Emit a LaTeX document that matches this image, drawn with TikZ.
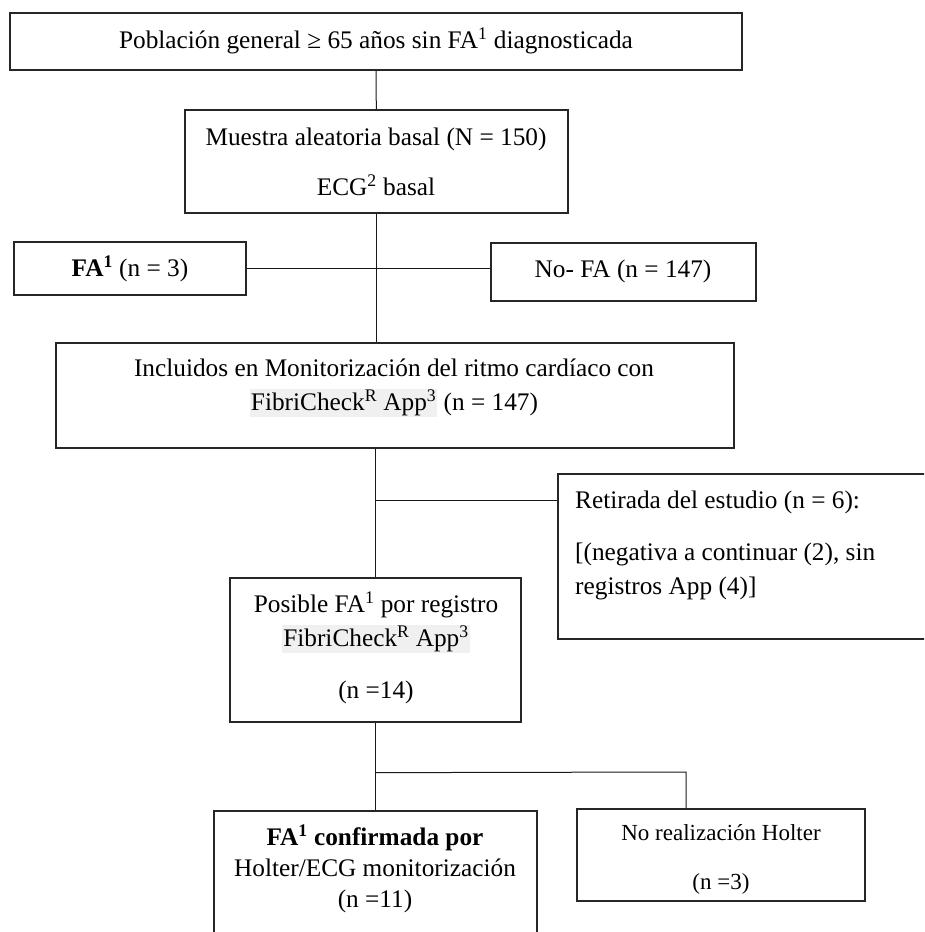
\documentclass[tikz,border=0pt]{standalone}
\usepackage{fontspec}
\setmainfont{Liberation Serif}
\usetikzlibrary{calc}

\definecolor{hlgray}{HTML}{F0F0F0}
\newcommand*{\AppHl}[1]{{\setlength{\fboxsep}{1pt}\colorbox{hlgray}{#1}}}
\newcommand*{\FibriApp}{\AppHl{FibriCheck\textsuperscript{R} App\textsuperscript{3}}}

\tikzset{
  box/.style={draw=black!85, line width=1.3pt, inner sep=0pt},
  conn/.style={draw=black!90, line width=1pt},
  txt/.style={inner sep=0pt, align=center, font=\fontsize{25.3}{34}\selectfont},
  smalltxt/.style={txt, font=\fontsize{23}{25}\selectfont},
}

\begin{document}
\begin{tikzpicture}[x=1pt,y=-1pt]
    \clip (0,0) rectangle (924,932);
    \fill[white] (0,0) rectangle (924,932);

    % boxes: name/left/top/right/bottom
    \foreach \name/\xl/\yt/\xr/\yb in {
        title/10/13/742/70,
        muestra/185/110/568/213,
        fa/14/242/246/295,
        nofa/491/243/756/301,
        incl/56/343/734/448,
        retir/558/474/940/639,
        posible/230/578/521/722,
        conf/214/811/537/950,
        nohol/577/809/865/901%
    }{
        \node[box, minimum width={\xr-\xl}, minimum height={\yb-\yt}]
            (\name) at ({(\xl+\xr)/2},{(\yt+\yb)/2}) {};
    }

    % texts
    \node[txt] (title-t) at (376,41) {Población general ≥ 65 años sin FA\textsuperscript{1} diagnosticada};
    \node[txt] (muestra-t) at (376,162) {Muestra aleatoria basal (N = 150)\\[16pt]ECG\textsuperscript{2} basal};
    \node[txt] (fa-t) at (130,269) {\textbf{FA\textsuperscript{1}} (n = 3)};
    \node[txt] (nofa-t) at (623,271) {No- FA (n = 147)};
    \node[txt] (incl-t) at (394,388) {Incluidos en Monitorización del ritmo cardíaco con\\\FibriApp{} (n = 147)};
    \node[txt, align=left, anchor=west] (retir-t) at (575,545) {Retirada del estudio (n = 6):\\[18pt][(negativa a continuar (2), sin\\registros App (4)]};
    \node[txt] (posible-t) at (376,648) {Posible FA\textsuperscript{1} por registro\\\FibriApp\\[18pt](n =14)};
    \node[txt] (conf-t) at (375,869) {\textbf{FA\textsuperscript{1} confirmada por}\\[-3pt]Holter/ECG monitorización\\[-3pt](n =11)};
    \node[smalltxt] (nohol-t) at (721,859) {No realización Holter\\[24pt](n =3)};

    % connectors
    \draw[conn] (title) -- (muestra);
    \draw[conn] (muestra.south) -- (muestra.south |- incl.north);
    \draw[conn] (fa.east) -- (fa.east -| nofa.west);
    \coordinate (split1) at (incl.south -| posible.north);
    \coordinate (split2) at (375.5,500);
    \draw[conn] (split1) -- (posible.north);
    \draw[conn] (split2) -- (split2 -| retir.west);
    \coordinate (split3) at ($(posible.south)+(0,50)$);
    \coordinate (split4) at (686,772);
    \draw[conn] (posible.south) -- (conf.north);
    \draw[conn] (split3) -- (split4) -- (split4 |- nohol.north);
\end{tikzpicture}
\end{document}
